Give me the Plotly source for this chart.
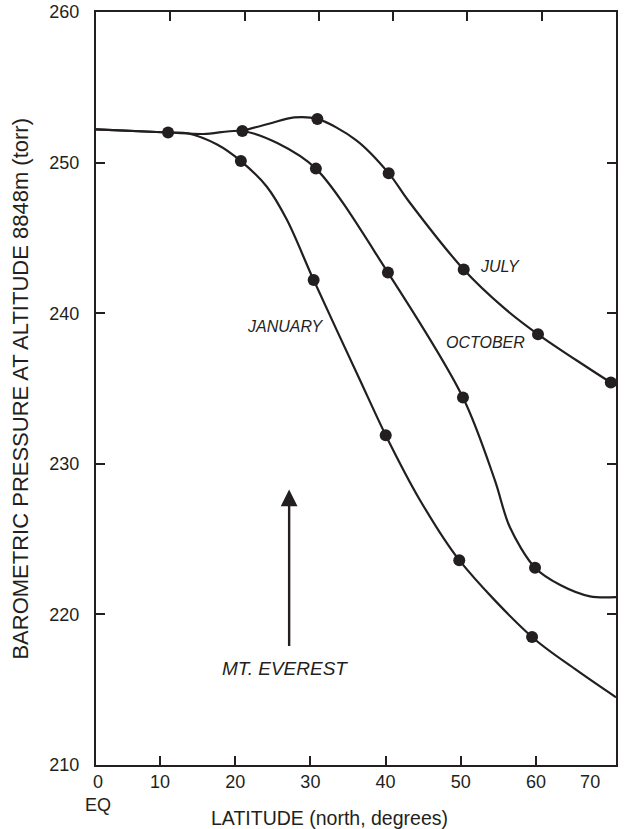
import plotly.graph_objects as go

INK = "#231f20"
FONT = "Arial, 'Liberation Sans', Helvetica, sans-serif"

# ---- curves (latitude deg N, pressure torr) ----
jan_curve_lat = [0, 9.7, 12.3, 16.3, 19.5, 23.0, 25.7, 29.3, 35.5, 39.0, 43.6, 48.9, 58.7, 64.7, 70]
jan_curve_p = [252.2, 252.0, 251.95, 251.2, 250.1, 248.4, 246.2, 242.2, 235.6, 231.9, 227.6, 223.6, 218.5, 216.3, 214.5]

oct_curve_lat = [0, 9.7, 14.5, 19.7, 24.4, 29.6, 39.3, 49.4, 53.7, 55.7, 59.1, 62.5, 66.5, 70]
oct_curve_p = [252.2, 252.0, 251.9, 252.1, 251.3, 249.6, 242.7, 234.4, 228.9, 225.8, 223.1, 221.95, 221.2, 221.15]

jul_curve_lat = [19.7, 23.4, 26.7, 29.8, 35.0, 39.4, 42.0, 49.5, 54.8, 59.5, 69.3, 70]
jul_curve_p = [252.1, 252.6, 253.0, 252.9, 251.5, 249.3, 247.5, 242.9, 240.4, 238.6, 235.4, 235.2]

# ---- plotted observation dots ----
common_dot_lat = [9.7]
common_dot_p = [252.0]
jan_dot_lat = [19.5, 29.3, 39.0, 48.9, 58.7]
jan_dot_p = [250.1, 242.2, 231.9, 223.6, 218.5]
oct_dot_lat = [19.7, 29.6, 39.3, 49.4, 59.1]
oct_dot_p = [252.1, 249.6, 242.7, 234.4, 223.1]
jul_dot_lat = [29.8, 39.4, 49.5, 59.5, 69.3]
jul_dot_p = [252.9, 249.3, 242.9, 238.6, 235.4]

# ---- axes ----
# top scale (data scale) ticks
x_top_ticks = [0, 10, 20, 30, 40, 50, 60, 70]
# the hand-drawn bottom scale is offset from the top one
x_bottom_range = [1.49, 70.64]
x_bottom_ticks = [10, 20, 30, 40, 50, 60]
x_bottom_label_vals = [1.76, 10, 20, 30, 40, 50, 60, 67.2]
x_bottom_label_text = ["0<br>EQ", "10", "20", "30", "40", "50", "60", "70"]
y_tick_vals = [210, 220, 230, 240, 250, 260]

# ---- labels ----
month_labels = ["JULY", "OCTOBER", "JANUARY"]
month_label_lat = [54.4, 52.4, 25.4]
month_label_p = [243.1, 238.05, 239.1]
everest_label = "MT. EVEREST"
everest_label_lat = 25.4
everest_label_p = 216.4
everest_lat = 26.0
everest_arrow_tip_p = 228.3
everest_arrow_base_p = 217.8

fig = go.Figure()

for lat, p in [(jan_curve_lat, jan_curve_p), (oct_curve_lat, oct_curve_p), (jul_curve_lat, jul_curve_p)]:
    fig.add_trace(go.Scatter(
        x=lat, y=p, mode="lines",
        line=dict(color=INK, width=2.2, shape="spline", smoothing=0.9),
        hoverinfo="skip", showlegend=False,
    ))

for lat, p in [(common_dot_lat, common_dot_p), (jan_dot_lat, jan_dot_p),
               (oct_dot_lat, oct_dot_p), (jul_dot_lat, jul_dot_p)]:
    fig.add_trace(go.Scatter(
        x=lat, y=p, mode="markers",
        marker=dict(color=INK, size=12, line=dict(width=0)),
        cliponaxis=False, hoverinfo="skip", showlegend=False,
    ))

# empty traces so the bottom scale axes exist
for ax in ["x2", "x3"]:
    fig.add_trace(go.Scatter(x=[], y=[], xaxis=ax, yaxis="y", mode="markers",
                             hoverinfo="skip", showlegend=False))

annotations = []
for txt, lx, ly in zip(month_labels, month_label_lat, month_label_p):
    annotations.append(dict(x=lx, y=ly, xref="x", yref="y", text="<i>" + txt + "</i>",
                            showarrow=False, font=dict(size=16, color=INK, family=FONT)))
annotations.append(dict(x=everest_label_lat, y=everest_label_p, xref="x", yref="y",
                        text="<i>" + everest_label + "</i>", showarrow=False,
                        font=dict(size=19, color=INK, family=FONT)))
annotations.append(dict(x=everest_lat, y=everest_arrow_tip_p, ax=everest_lat, ay=everest_arrow_base_p,
                        xref="x", yref="y", axref="x", ayref="y", text="", showarrow=True,
                        arrowhead=2, arrowsize=1.4, arrowwidth=2.4, arrowcolor=INK, standoff=0))
annotations.append(dict(x=31.4, y=0, xref="x", yref="paper", yanchor="middle", yshift=-53,
                        text="LATITUDE (north, degrees)", showarrow=False,
                        font=dict(size=19.5, color=INK, family=FONT)))
annotations.append(dict(x=-0.146, y=0.5, xref="paper", yref="paper", textangle=-90,
                        xanchor="center", yanchor="middle",
                        text="BAROMETRIC PRESSURE AT ALTITUDE 8848m (torr)", showarrow=False,
                        font=dict(size=22, color=INK, family=FONT)))

tickstyle = dict(ticklen=9, tickwidth=2, tickcolor=INK, showgrid=False, zeroline=False,
                 tickfont=dict(size=18, color=INK, family=FONT))

fig.update_layout(
    template="none",
    width=630, height=829,
    margin=dict(l=96, r=14, t=12, b=64, autoexpand=False),
    paper_bgcolor="white", plot_bgcolor="white",
    font=dict(family=FONT, color=INK),
    showlegend=False,
    annotations=annotations,
    xaxis=dict(range=[0, 70], side="top", tickvals=x_top_ticks, ticks="inside",
               showticklabels=False, showline=True, mirror=True, linecolor=INK, linewidth=2,
               **tickstyle),
    xaxis2=dict(range=x_bottom_range, overlaying="x", anchor="y", side="bottom",
                tickvals=x_bottom_ticks, ticks="inside", showticklabels=False,
                showline=False, **tickstyle),
    xaxis3=dict(range=x_bottom_range, overlaying="x", anchor="y", side="bottom",
                tickvals=x_bottom_label_vals, ticktext=x_bottom_label_text, ticks="",
                showline=False, ticklabelstandoff=4, **tickstyle),
    yaxis=dict(range=[210, 260], tickvals=y_tick_vals, ticks="inside", mirror="ticks",
               showline=True, linecolor=INK, linewidth=2, ticklabelstandoff=11, **tickstyle),
)

fig.write_html(
    "out.html",
    config={"displayModeBar": False},
    post_script="document.body.style.margin='0px';document.body.style.overflow='hidden';",
)
